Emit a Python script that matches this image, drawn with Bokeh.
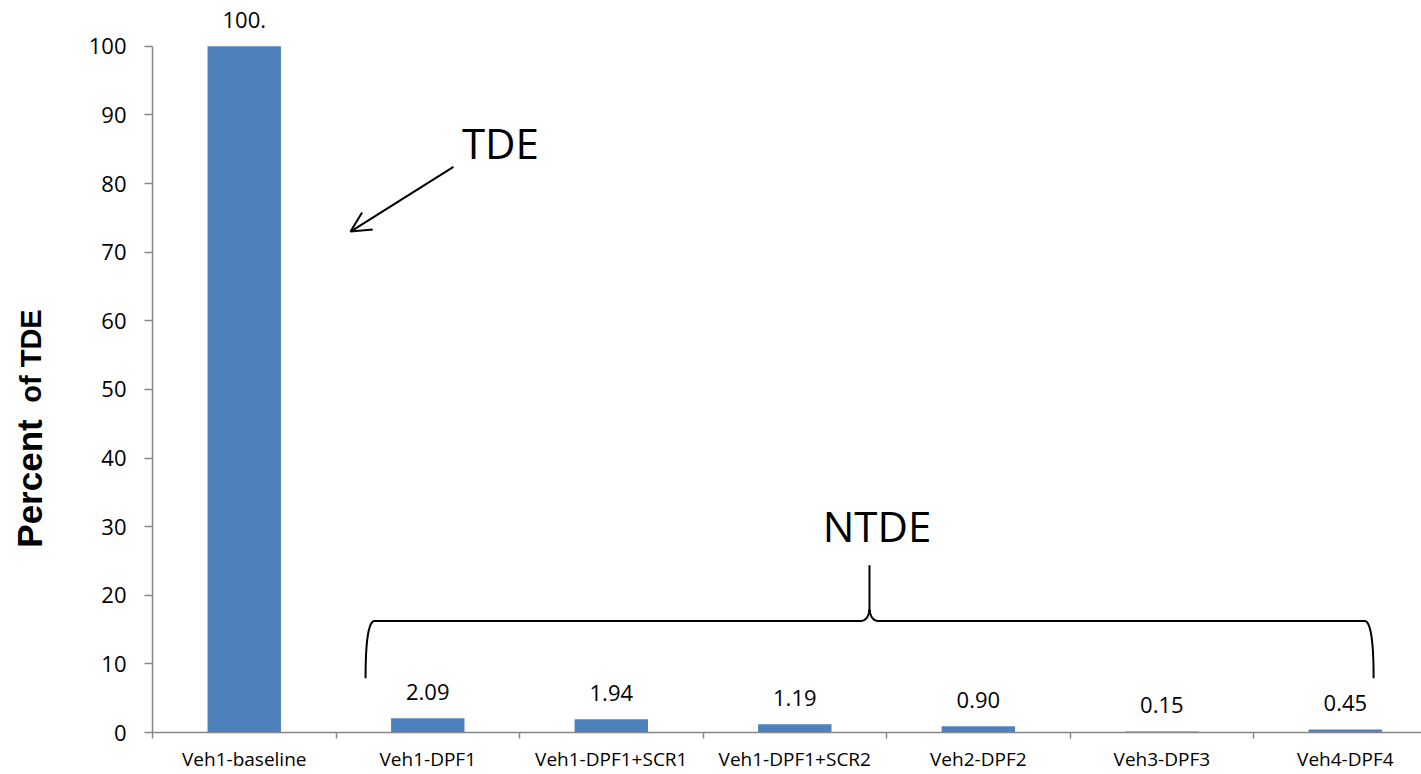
import numpy as np
from bokeh.plotting import figure
from bokeh.layouts import row
from bokeh.models import Range1d, FixedTicker, ColumnDataSource, Label, Arrow, OpenHead
from bokeh.core.properties import value
from bokeh.embed import file_html
from bokeh.resources import INLINE

# ---- data ----
categories = ["Veh1-baseline", "Veh1-DPF1", "Veh1-DPF1+SCR1", "Veh1-DPF1+SCR2",
              "Veh2-DPF2", "Veh3-DPF3", "Veh4-DPF4"]
values = [100.0, 2.09, 1.94, 1.19, 0.90, 0.15, 0.45]
value_labels = ["100.", "2.09", "1.94", "1.19", "0.90", "0.15", "0.45"]
y_ticks = [0, 10, 20, 30, 40, 50, 60, 70, 80, 90, 100]
y_title_parts = ["Percent", "of TDE"]

FONT = "Open Sans"
AXIS_GREY = "#868686"
BAR_BLUE = "#4F81BD"
TITLE_W = 60
H = 774
FRAME_H = 735

# ---- y-axis title panel (two font sizes); its frame is aligned with the chart frame ----
lf = figure(width=TITLE_W, height=H, output_backend="svg", toolbar_location=None,
            x_range=Range1d(0, TITLE_W), y_range=Range1d(H - FRAME_H, H), min_border=0,
            x_axis_location=None, y_axis_location=None, title=None)
lf.grid.visible = False
lf.outline_line_color = None
lf.text(x=[29], y=[H - 485], text=[y_title_parts[0]], angle=np.pi / 2,
        text_font=value("Liberation Sans"), text_font_style="bold",
        text_font_size="35px", text_align="center", text_baseline="middle",
        text_color="black")
lf.text(x=[30], y=[H - 357], text=[y_title_parts[1]], angle=np.pi / 2,
        text_font=value("Liberation Sans"), text_font_style="bold",
        text_font_size="29px", text_align="center", text_baseline="middle",
        text_color="black")

# ---- main chart ----
xc = [i + 0.5 for i in range(len(categories))]
src = ColumnDataSource(dict(x=xc, top=values, label=value_labels))

p = figure(width=1421 - TITLE_W, height=H, output_backend="svg", toolbar_location=None,
           x_range=Range1d(0, 6.915), y_range=Range1d(0, 106.68),
           min_border_left=152 - TITLE_W, min_border_right=0, min_border_top=0,
           min_border_bottom=H - FRAME_H)
p.outline_line_color = None
p.xgrid.visible = False
p.ygrid.visible = False

# x axis: labels at category centres, tick marks at category boundaries
p.xaxis.ticker = FixedTicker(ticks=xc, minor_ticks=list(range(len(categories) + 1)))
p.xaxis.major_label_overrides = {x: c for x, c in zip(xc, categories)}
p.xaxis.axis_line_color = AXIS_GREY
p.xaxis.axis_line_width = 1.5
p.xaxis.major_tick_line_color = None
p.xaxis.major_tick_out = 6
p.xaxis.major_tick_in = 0
p.xaxis.minor_tick_line_color = AXIS_GREY
p.xaxis.minor_tick_line_width = 1.5
p.xaxis.minor_tick_out = 6
p.xaxis.minor_tick_in = 0
p.xaxis.major_label_text_font = FONT
p.xaxis.major_label_text_font_size = "19px"
p.xaxis.major_label_text_color = "black"
p.xaxis.major_label_standoff = 7

# y axis
p.yaxis.ticker = FixedTicker(ticks=y_ticks)
p.yaxis.bounds = (0, 100)
p.yaxis.axis_line_color = AXIS_GREY
p.yaxis.axis_line_width = 1.5
p.yaxis.major_tick_line_color = AXIS_GREY
p.yaxis.major_tick_line_width = 1.5
p.yaxis.major_tick_out = 8
p.yaxis.major_tick_in = 0
p.yaxis.minor_tick_line_color = None
p.yaxis.major_label_text_font = FONT
p.yaxis.major_label_text_font_size = "22px"
p.yaxis.major_label_text_color = "black"
p.yaxis.major_label_standoff = 18

# bars and value labels
p.vbar(x="x", top="top", width=0.4, source=src, fill_color=BAR_BLUE, line_color=None)
p.text(x="x", y="top", text="label", source=src, text_align="center",
       text_baseline="alphabetic", y_offset=-26, text_font=value(FONT),
       text_font_size="22px", text_color="black")

# TDE annotation with arrow
p.add_layout(Label(x=1.896, y=83.9, y_offset=14, text="TDE", text_font=FONT,
                   text_font_size="42px", text_align="center",
                   text_baseline="alphabetic", text_color="black"))
p.add_layout(Arrow(end=OpenHead(size=20, line_width=2, line_color="black"),
                   x_start=1.640, y_start=82.44, x_end=1.079, y_end=73.0,
                   line_width=2, line_color="black"))

# NTDE annotation with curly brace
p.add_layout(Label(x=3.948, y=28.16, y_offset=14, text="NTDE", text_font=FONT,
                   text_font_size="42px", text_align="center",
                   text_baseline="alphabetic", text_color="black"))


def quad(p0, c, p1, n=20):
    t = np.linspace(0, 1, n)
    x = (1 - t) ** 2 * p0[0] + 2 * (1 - t) * t * c[0] + t ** 2 * p1[0]
    y = (1 - t) ** 2 * p0[1] + 2 * (1 - t) * t * c[1] + t ** 2 * p1[1]
    return list(x), list(y)


def brace(x0, x1, xm, yb, yh, yt, rx=0.05, rx2=0.05, ry2=2.2):
    xs, ys = [], []
    qx, qy = quad((x0, yb), (x0, yh), (x0 + rx, yh), 30)
    xs += qx; ys += qy
    qx, qy = quad((xm - rx2, yh), (xm, yh), (xm, yh + ry2))
    xs += qx; ys += qy
    xs += [xm]; ys += [yt]
    qx, qy = quad((xm, yh + ry2), (xm, yh), (xm + rx2, yh))
    xs += qx; ys += qy
    qx, qy = quad((x1 - rx, yh), (x1, yh), (x1, yb), 30)
    xs += qx; ys += qy
    return xs, ys


bx, by = brace(1.161, 6.654, 3.907, 7.9, 16.26, 24.38)
p.line(bx, by, line_color="black", line_width=2)

layout = row(lf, p, spacing=0)
open("out.html", "w").write(file_html(layout, INLINE))
